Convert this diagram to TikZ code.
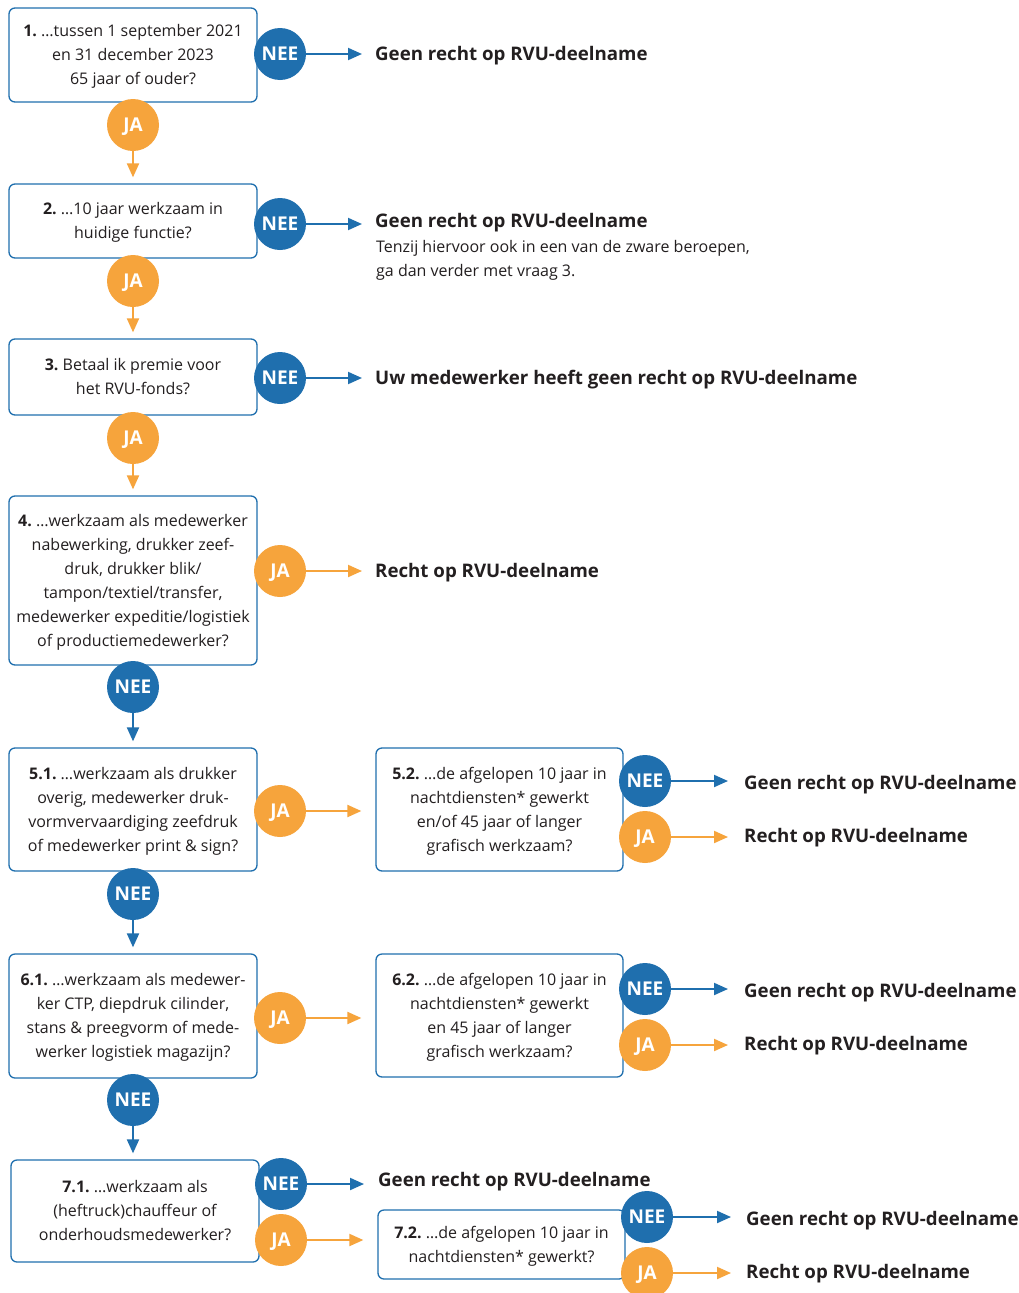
\documentclass[tikz,border=0pt]{standalone}
\usepackage{fontspec}
\setmainfont{Open Sans}
\usetikzlibrary{arrows.meta}
\definecolor{cblue}{HTML}{1F6FAE}
\definecolor{corange}{HTML}{F6A43C}
\definecolor{ctext}{HTML}{231F20}
\newcommand\tstr{\rule{0pt}{17pt}}
\newcommand\bstr{\rule[-5.6pt]{0pt}{5.6pt}}
\frenchspacing
\begin{document}
\begin{tikzpicture}[x=1pt,y=-1pt,
 qbox/.style={draw=cblue, line width=1.3pt, rounded corners=6pt, fill=white, align=center, text=ctext, font=\fontsize{16}{24}\selectfont, inner sep=0pt},
 nee/.style={circle, fill=cblue, minimum size=52pt, inner sep=0pt, text=white, text depth=0pt, font=\fontsize{19}{19}\selectfont\bfseries},
 ja/.style={nee, fill=corange},
 res/.style={anchor=base west, inner sep=0pt, text=ctext, font=\fontsize{18.7}{22}\selectfont\bfseries},
 note/.style={anchor=north west, inner sep=0pt, text=ctext, align=left, font=\fontsize{16}{24}\selectfont},
 barrow/.style={draw=cblue, line width=2pt, -{Triangle[length=14pt,width=12pt]}},
 oarrow/.style={barrow, draw=corange},
]
\useasboundingbox[fill=white] (0,0) rectangle (1019,1293);

% boxes
\node[qbox, minimum width=248pt, minimum height=94pt] (b1) at (133,55) {\tstr\textbf{1.} …tussen 1 september 2021\\en 31 december 2023\\65 jaar of ouder?\bstr};
\node[qbox, minimum width=248pt, minimum height=74pt] (b2) at (133,221) {\tstr\textbf{2.} …10 jaar werkzaam in\\huidige functie?\bstr};
\node[qbox, minimum width=248pt, minimum height=76pt] (b3) at (133,377) {\tstr\textbf{3.} Betaal ik premie voor\\het RVU-fonds?\bstr};
\node[qbox, minimum width=248pt, minimum height=169pt] (b4) at (133,580.5) {\tstr\textbf{4.} …werkzaam als medewerker\\nabewerking, drukker zeef-\\druk, drukker blik/\\tampon/textiel/transfer,\\medewerker expeditie/logistiek\\of productiemedewerker?\bstr};
\node[qbox, minimum width=248pt, minimum height=123pt] (b51) at (133,809.5) {\tstr\textbf{5.1.} …werkzaam als drukker\\overig, medewerker druk-\\vormvervaardiging zeefdruk\\of medewerker print \& sign?\bstr};
\node[qbox, minimum width=247pt, minimum height=123pt] (b52) at (499.5,809.5) {\tstr\textbf{5.2.} …de afgelopen 10 jaar in\\nachtdiensten* gewerkt\\en/of 45 jaar of langer\\grafisch werkzaam?\bstr};
\node[qbox, minimum width=248pt, minimum height=124pt] (b61) at (133,1016) {\tstr\textbf{6.1.} …werkzaam als medewer-\\ker CTP, diepdruk cilinder,\\stans \& preegvorm of mede-\\werker logistiek magazijn?\bstr};
\node[qbox, minimum width=247pt, minimum height=123pt] (b62) at (499.5,1015.5) {\tstr\textbf{6.2.} …de afgelopen 10 jaar in\\nachtdiensten* gewerkt\\en 45 jaar of langer\\grafisch werkzaam?\bstr};
\node[qbox, minimum width=248pt, minimum height=102pt] (b71) at (135,1211) {\tstr\textbf{7.1.} …werkzaam als\\(heftruck)chauffeur of\\onderhoudsmedewerker?\bstr};
\node[qbox, minimum width=247pt, minimum height=69pt] (b72) at (501.5,1244.5) {\tstr\textbf{7.2.} …de afgelopen 10 jaar in\\nachtdiensten* gewerkt?\bstr};

% results
\node[res] (r1) at (375,60.7) {Geen recht op RVU-deelname};
\node[res] (r2) at (375,227.7) {Geen recht op RVU-deelname};
\node[note] (r2n) at (376,239.7) {\rule{0pt}{13pt}Tenzij hiervoor ook in een van de zware beroepen,\\ga dan verder met vraag 3.};
\node[res] (r3) at (375,384.7) {Uw medewerker heeft geen recht op RVU-deelname};
\node[res] (r4) at (375,577.7) {Recht op RVU-deelname};
\node[res] (r52n) at (744,789.7) {Geen recht op RVU-deelname};
\node[res] (r52j) at (744,842.7) {Recht op RVU-deelname};
\node[res] (r62n) at (744,997.7) {Geen recht op RVU-deelname};
\node[res] (r62j) at (744,1050.7) {Recht op RVU-deelname};
\node[res] (r71n) at (378,1186.7) {Geen recht op RVU-deelname};
\node[res] (r72n) at (746,1225.7) {Geen recht op RVU-deelname};
\node[res] (r72j) at (746,1278.7) {Recht op RVU-deelname};

% circles
\node[nee] (n1) at (280,54) {NEE};
\node[ja] (j1) at (133,125) {JA};
\node[nee] (n2) at (280,224) {NEE};
\node[ja] (j2) at (133,281) {JA};
\node[nee] (n3) at (280,378) {NEE};
\node[ja] (j3) at (133,438) {JA};
\node[ja] (j4) at (280,571) {JA};
\node[nee] (n4) at (133,687) {NEE};
\node[ja] (j51) at (280,811) {JA};
\node[nee] (n52) at (645,781) {NEE};
\node[ja] (j52) at (645,837) {JA};
\node[nee] (n5) at (133,894) {NEE};
\node[ja] (j61) at (280,1018) {JA};
\node[nee] (n62) at (645,989) {NEE};
\node[ja] (j62) at (645,1045) {JA};
\node[nee] (n6) at (133,1100) {NEE};
\node[nee] (n71) at (281,1184) {NEE};
\node[ja] (j71) at (281,1240) {JA};
\node[nee] (n72) at (647,1217) {NEE};
\node[ja] (j72) at (647,1273) {JA};

% vertical connectors
\draw[oarrow, shorten >=6pt] (j1.south) -- (j1.south |- b2.north);
\draw[oarrow, shorten >=6pt] (j2.south) -- (j2.south |- b3.north);
\draw[oarrow, shorten >=6pt] (j3.south) -- (j3.south |- b4.north);
\draw[barrow, shorten >=6pt] (n4.south) -- (n4.south |- b51.north);
\draw[barrow, shorten >=6pt] (n5.south) -- (n5.south |- b61.north);
\draw[barrow, shorten >=6pt] (n6.south) -- (n6.south |- b71.north);

% horizontal connectors
\draw[barrow, shorten >=13pt] (n1.east) -- (n1.east -| r1.west);
\draw[barrow, shorten >=13pt] (n2.east) -- (n2.east -| r2.west);
\draw[barrow, shorten >=13pt] (n3.east) -- (n3.east -| r3.west);
\draw[oarrow, shorten >=13pt] (j4.east) -- (j4.east -| r4.west);
\draw[oarrow, shorten >=14pt] (j51.east) -- (j51.east -| b52.west);
\draw[barrow, shorten >=16pt] (n52.east) -- (n52.east -| r52n.west);
\draw[oarrow, shorten >=16pt] (j52.east) -- (j52.east -| r52j.west);
\draw[oarrow, shorten >=14pt] (j61.east) -- (j61.east -| b62.west);
\draw[barrow, shorten >=16pt] (n62.east) -- (n62.east -| r62n.west);
\draw[oarrow, shorten >=16pt] (j62.east) -- (j62.east -| r62j.west);
\draw[barrow, shorten >=14pt] (n71.east) -- (n71.east -| r71n.west);
\draw[oarrow, shorten >=14pt] (j71.east) -- (j71.east -| b72.west);
\draw[barrow, shorten >=15pt] (n72.east) -- (n72.east -| r72n.west);
\draw[oarrow, shorten >=15pt] (j72.east) -- (j72.east -| r72j.west);
\end{tikzpicture}
\end{document}
